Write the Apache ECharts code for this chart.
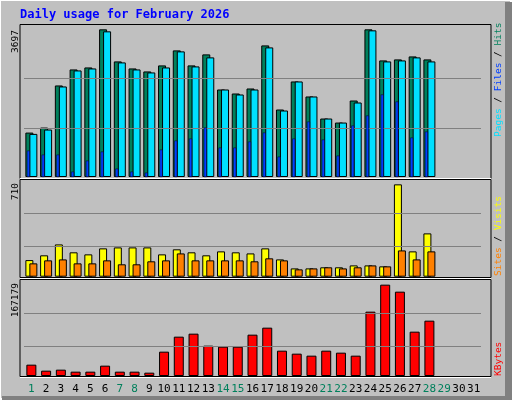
<!DOCTYPE html>
<html><head><meta charset="utf-8">
<script src="https://cdn.jsdelivr.net/npm/echarts@6/dist/echarts.min.js"></script>
<style>html,body{margin:0;padding:0;background:#c0c0c0}#c{width:512px;height:400px}</style>
</head><body><div id="c"></div>
<script>
const days = ['1','2','3','4','5','6','7','8','9','10','11','12','13','14','15','16','17','18','19','20','21','22','23','24','25','26','27','28','29','30','31'];
const weekend = ['1','7','8','14','15','21','22','28','29'];
const hits = [1112,1238,2292,2693,2743,3697,2894,2718,2643,2794,3170,2794,3070,2191,2091,2216,3295,1690,2392,2016,1464,1363,1915,3697,2919,2944,3019,2944];
const files = [1079,1188,2267,2668,2718,3647,2869,2693,2618,2743,3145,2769,2995,2191,2066,2191,3245,1665,2392,2016,1464,1363,1865,3672,2894,2919,2995,2894];
const pages = [661,560,560,134,410,636,209,134,109,686,912,962,1238,736,736,887,1112,510,962,1388,937,535,1288,1539,2066,1890,987,1137];
const visits = [122,157,237,179,164,208,215,215,215,164,201,179,157,186,179,171,208,127,61,61,69,69,83,83,76,678,186,318];
const sites = [98,120,127,98,98,120,91,91,113,120,171,120,120,120,120,113,135,120,54,61,69,61,69,83,76,193,127,186];
const kbytes = [19944,9386,11145,7626,7626,18184,7626,7626,5866,42821,69217,74497,53380,51620,51620,72737,85054,44581,39302,35782,44581,41061,35782,113212,160725,148407,78016,97373];
const maxLabels = ['3697','710','167179'];

const chart = echarts.init(document.getElementById('c'));
const bs = {borderColor:'#000',borderWidth:1};
const F = '9.5px "DejaVu Sans Mono"';
function gl(vals){return {silent:true,symbol:'none',label:{show:false},lineStyle:{color:'#808080',type:'solid',width:1},data:vals.map(v=>({yAxis:v}))};}
const xBase = {type:'category',data:days,axisLine:{show:false},axisTick:{show:false},axisLabel:{show:false},splitLine:{show:false}};
const yBase = {type:'value',min:0,axisLine:{show:false},axisTick:{show:false},axisLabel:{show:false},splitLine:{show:false}};
const rich = {g:{color:'#00805c',fontFamily:'DejaVu Sans Mono',fontSize:11},k:{color:'#000',fontFamily:'DejaVu Sans Mono',fontSize:11}};
chart.setOption({
  backgroundColor:'#c0c0c0',
  animation:false,
  grid:[
    {left:24,right:31,top:25,height:152},
    {left:21,right:34,top:25,height:152},
    {left:24,right:31,top:180,height:96.7},
    {left:24,right:31,top:281,height:95}
  ],
  xAxis:[
    Object.assign({gridIndex:0},xBase),
    Object.assign({gridIndex:1},xBase),
    Object.assign({gridIndex:2},xBase),
    Object.assign({gridIndex:3},xBase,{axisLabel:{show:true,margin:8,interval:0,
      formatter:v=>weekend.includes(v)?'{g|'+v+'}':'{k|'+v+'}',rich:rich}})
  ],
  yAxis:[
    Object.assign({gridIndex:0,max:3697*455/442},yBase),
    Object.assign({gridIndex:1,max:3697*455/442},yBase),
    Object.assign({gridIndex:2,max:710},yBase),
    Object.assign({gridIndex:3,max:167179},yBase)
  ],
  series:[
    {type:'bar',xAxisIndex:0,yAxisIndex:0,data:hits,barWidth:8,barGap:'-50%',itemStyle:Object.assign({color:'#00805c'},bs),markLine:gl([1232,2465]),z:2},
    {type:'bar',xAxisIndex:0,yAxisIndex:0,data:files,barWidth:8,barGap:'-50%',itemStyle:Object.assign({color:'#00e0ff'},bs),z:3},
    {type:'bar',xAxisIndex:1,yAxisIndex:1,data:pages,barWidth:3,itemStyle:{color:'#0040ff',borderColor:'#000020',borderWidth:0.5},z:5},
    {type:'bar',xAxisIndex:2,yAxisIndex:2,data:visits,barWidth:8,barGap:'-50%',itemStyle:Object.assign({color:'#ffff00'},bs),markLine:gl([220,465])},
    {type:'bar',xAxisIndex:2,yAxisIndex:2,data:sites,barWidth:8,barGap:'-50%',itemStyle:Object.assign({color:'#ff8000'},bs)},
    {type:'bar',xAxisIndex:3,yAxisIndex:3,data:kbytes,barWidth:10,itemStyle:Object.assign({color:'#ff0000'},bs),markLine:gl([51620,109693])}
  ],
  graphic:[
    {type:'rect',shape:{x:0,y:0,width:511,height:399},style:{fill:'none',stroke:'#ffffff',lineWidth:2},silent:true},
    {type:'rect',shape:{x:505,y:2,width:7,height:398},style:{fill:'#808080'},silent:true},
    {type:'rect',shape:{x:2,y:396,width:510,height:4},style:{fill:'#808080'},silent:true},
    {type:'text',left:20,top:9,style:{text:'Daily usage for February 2026',fill:'#0000ff',font:'bold 12px "DejaVu Sans Mono"'}},
    {type:'rect',shape:{x:20,y:24.5,width:471,height:154},style:{fill:'none',stroke:'#000',lineWidth:1},z:-1,silent:true},
    {type:'rect',shape:{x:20,y:179.5,width:471,height:98},style:{fill:'none',stroke:'#000',lineWidth:1},silent:true},
    {type:'rect',shape:{x:20,y:279.5,width:471,height:97},style:{fill:'none',stroke:'#000',lineWidth:1},silent:true},
    {type:'line',shape:{x1:20,y1:178.5,x2:491,y2:178.5},style:{stroke:'#fff',lineWidth:1},silent:true},
    {type:'line',shape:{x1:20,y1:278.5,x2:491,y2:278.5},style:{stroke:'#fff',lineWidth:1},silent:true},
    {type:'line',shape:{x1:20,y1:377.5,x2:491,y2:377.5},style:{stroke:'#fff',lineWidth:1},silent:true},
    {type:'text',x:11,y:30,rotation:Math.PI/2,style:{text:maxLabels[0],fill:'#000',font:F,align:'right',verticalAlign:'top'}},
    {type:'text',x:11,y:183,rotation:Math.PI/2,style:{text:maxLabels[1],fill:'#000',font:F,align:'right',verticalAlign:'top'}},
    {type:'text',x:11,y:283,rotation:Math.PI/2,style:{text:maxLabels[2],fill:'#000',font:F,align:'right',verticalAlign:'top'}},
    {type:'text',x:494,y:137,rotation:Math.PI/2,style:{text:'{a|Pages}{k| / }{b|Files}{k| / }{c|Hits}',align:'left',verticalAlign:'top',
      rich:{a:{fill:'#00e0ff',font:F},b:{fill:'#0040ff',font:F},c:{fill:'#00805c',font:F},k:{fill:'#000',font:F}}}},
    {type:'text',x:494,y:276,rotation:Math.PI/2,style:{text:'{a|Sites}{k| / }{b|Visits}',align:'left',verticalAlign:'top',
      rich:{a:{fill:'#ff8000',font:F},b:{fill:'#ffff00',font:F},k:{fill:'#000',font:F}}}},
    {type:'text',x:494,y:376,rotation:Math.PI/2,style:{text:'KBytes',fill:'#ff0000',font:F,align:'left',verticalAlign:'top'}}
  ]
});
</script></body></html>
